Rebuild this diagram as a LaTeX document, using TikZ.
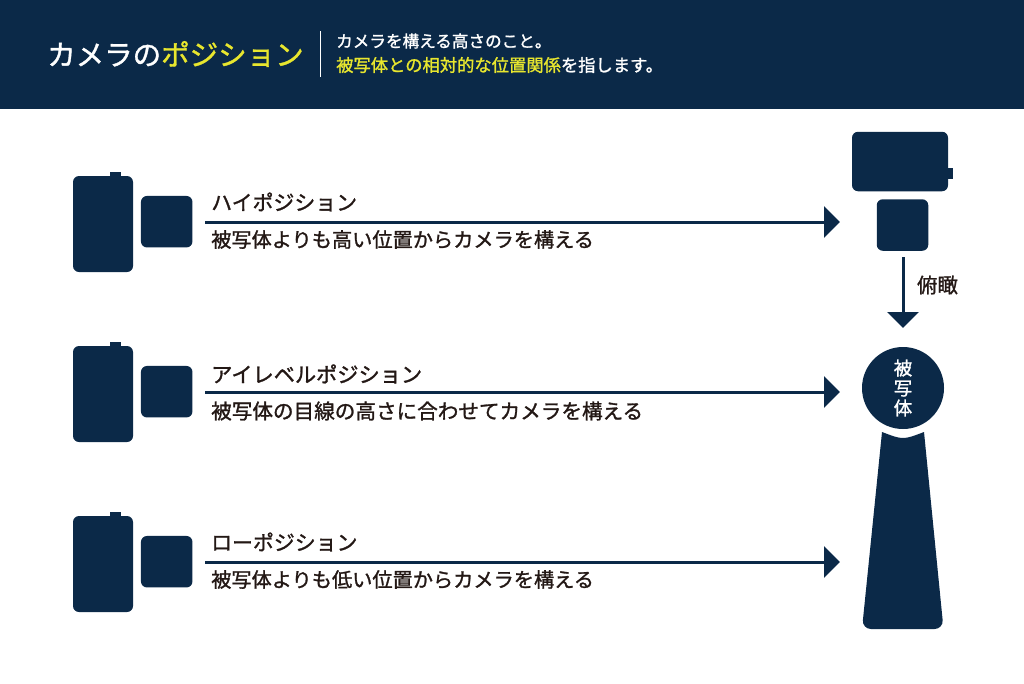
\documentclass[tikz,border=0pt]{standalone}
\usepackage{fontspec}
\setmainfont{Noto Sans CJK JP}
\newfontfamily\jpmed[FakeBold=1.3]{Noto Sans CJK JP}
\usetikzlibrary{arrows.meta}
\definecolor{navy}{HTML}{0B2948}
\definecolor{hilite}{HTML}{E8E62E}
\definecolor{inktext}{HTML}{231815}
\tikzset{
  solid box/.style={fill=navy,rounded corners=6pt,inner sep=0pt,outer sep=0pt},
  lens box/.style={solid box,minimum width=51.5,minimum height=51.5},
  lead/.style={navy,line width=3pt,-{Triangle[length=16pt,width=31pt]}},
  row label/.style={anchor=west,inner sep=0pt,text=inktext},
  head label/.style={anchor=west,inner sep=0pt,text=white},
}
\newcommand{\jpsize}[1]{\jpmed\fontsize{#1}{24}\selectfont}
\begin{document}
\begin{tikzpicture}[x=1pt,y=-1pt]
  \useasboundingbox (0,0) rectangle (1024,683);
  % header
  \fill[navy] (0,0) rectangle (1024,108.5);
  \node[head label,font=\jpsize{28.5}] (headtitle) at (47,54) {カメラの\textcolor{hilite}{ポジション}};
  \coordinate (ruletop) at (320.5,31);
  \coordinate (rulebot) at (320.5,77);
  \draw[white,line width=1pt] (ruletop)--(rulebot);
  \node[head label,font=\jpsize{16.6}] (headone) at (336,41) {カメラを構える高さのこと。};
  \node[head label,font=\jpsize{17.3}] (headtwo) at (336,65) {\textcolor{hilite}{被写体との相対的な位置関係}を指します。};
  % three camera rows
  \foreach \row/\y/\dy/\ty/\fa/\fb/\ttl/\dsc in {high/0/-20/239.5/20.9/20.2/ハイポジション/被写体よりも高い位置からカメラを構える,
      eye/170/-18/241/21.2/20.6/アイレベルポジション/被写体の目線の高さに合わせてカメラを構える,
      low/340/-20/239.5/20.9/20.2/ローポジション/被写体よりも低い位置からカメラを構える}{
    \fill[navy] (110,172+\y) rectangle (121,180+\y);
    \node[solid box,minimum width=60,minimum height=96] (\row body) at (103,224+\y) {};
    \node[lens box] (\row lens) at (166.7,221.7+\y) {};
    \coordinate (\row from) at (205,222+\y);
    \coordinate (\row to) at (840,222+\y);
    \draw[lead] (\row from)--(\row to);
    \node[row label,font=\jpsize{\fa}] (\row title) at (211,222+\y+\dy) {\ttl};
    \node[row label,font=\jpsize{\fb}] (\row text) at (211,\ty+\y) {\dsc};
  }
  % top camera
  \fill[navy] (945,168) rectangle (953,179);
  \node[solid box,minimum width=96,minimum height=59.5] (topbody) at (900,161.5) {};
  \node[lens box] (toplens) at (902.5,225) {};
  \coordinate (downfrom) at (903,257);
  \coordinate (downto) at (903,328);
  \draw[lead] (downfrom)--(downto);
  \node[inner sep=0pt,text=inktext,font=\jpsize{20.4}] (downlabel) at (937.5,285) {俯瞰};
  % subject
  \fill[navy] (882,432) .. controls (903,440) .. (924,432)
    [rounded corners=9pt] -- (943.5,629) -- (862,629) [sharp corners] -- cycle;
  \node[circle,fill=navy,minimum size=82,inner sep=0pt,align=center,text=white,font=\jpmed\fontsize{18.5}{20}\selectfont] (subjecthead) at (903,388) {被\\写\\体};
\end{tikzpicture}
\end{document}
